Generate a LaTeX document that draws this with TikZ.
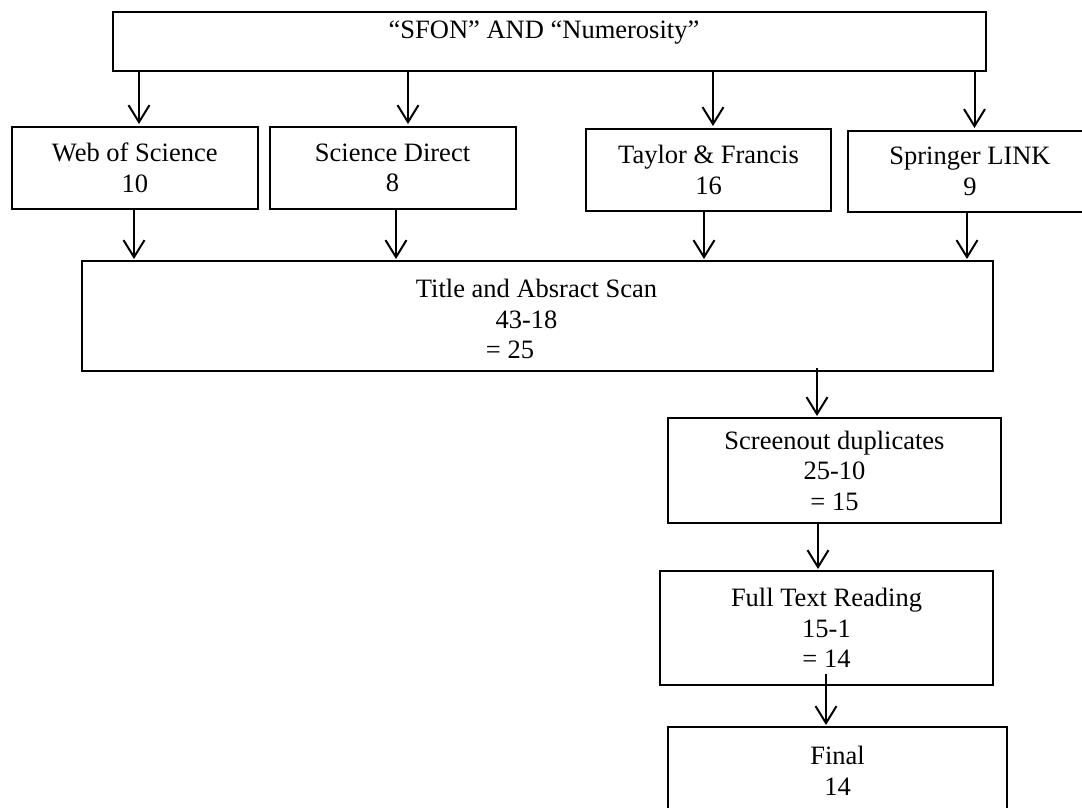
\documentclass[tikz,border=0pt]{standalone}
\usepackage{fontspec}
\setmainfont{Liberation Serif}
\usetikzlibrary{arrows.meta}
\begin{document}
\begin{tikzpicture}[x=1pt,y=-1pt,
  box/.style={draw, line width=2pt, inner sep=0pt, align=center, font=\fontsize{26.5}{30.5}\selectfont},
  txt/.style={inner sep=0pt, font=\fontsize{26.5}{30.5}\selectfont},
  arr/.style={line width=2pt, -{Straight Barb[length=17pt,width=21pt,line width=2pt]}}]
\useasboundingbox (0,0) rectangle (1082,807);
\clip (0,0) rectangle (1082,807);
% boxes
\node[box, minimum width=873pt, minimum height=59pt] (top) at (549.5,41.5) {};
\node[txt] (toptxt) at (544,33) {“SFON” AND “Numerosity”};
\node[box, minimum width=245.5pt, minimum height=82pt] (web) at (134.75,168) {Web of Science\\10};
\node[box, minimum width=246pt, minimum height=82pt] (sd) at (392.5,168) {Science Direct\\8};
\node[box, minimum width=245pt, minimum height=82pt] (tf) at (708.5,170) {Taylor \& Francis\\16};
\node[box, minimum width=244pt, minimum height=81pt] (sl) at (970,171.5) {Springer LINK\\9};
\node[box, minimum width=911pt, minimum height=110pt] (title) at (537.5,316) {};
\node[txt] (t1) at (536.5,288) {Title and Absract Scan};
\node[txt] (t2) at (526.5,320) {43-18};
\node[txt] (t3) at (510,350) {= 25};
\node[box, minimum width=333pt, minimum height=105pt] (scr) at (834.5,470.5) {Screenout duplicates\\25-10\\= 15};
\node[box, minimum width=333pt, minimum height=114pt] (ftr) at (826.5,628) {Full Text Reading\\15-1\\= 14};
\node[box, minimum width=339pt, minimum height=88pt] (fin) at (837.5,771) {Final\\14};
% connectors
\draw[arr] ([xshift=-410.5pt]top.south) -- ([xshift=4.25pt,yshift=2pt]web.north);
\draw[arr] ([xshift=-141.5pt]top.south) -- ([xshift=15.5pt,yshift=2pt]sd.north);
\draw[arr] ([xshift=163.5pt]top.south) -- ([xshift=4.5pt,yshift=2pt]tf.north);
\draw[arr] ([xshift=425pt]top.south) -- ([xshift=4.5pt,yshift=2pt]sl.north);
\draw[arr] ([xshift=-0.75pt]web.south) -- ([xshift=-403.5pt,yshift=1pt]title.north);
\draw[arr] ([xshift=3.5pt]sd.south) -- ([xshift=-141.5pt,yshift=1pt]title.north);
\draw[arr] ([xshift=-4.5pt]tf.south) -- ([xshift=166.5pt,yshift=1pt]title.north);
\draw[arr] ([xshift=-3pt]sl.south) -- ([xshift=429.5pt,yshift=1pt]title.north);
\draw[arr] ([xshift=279.5pt,yshift=4pt]title.south) -- ([xshift=-17.5pt,yshift=1pt]scr.north);
\draw[arr] ([xshift=-16.5pt]scr.south) -- ([xshift=-8.5pt,yshift=1pt]ftr.north);
\draw[arr] ([xshift=-0.5pt,yshift=12pt]ftr.south) -- ([xshift=-11.5pt,yshift=1pt]fin.north);
\end{tikzpicture}
\end{document}
